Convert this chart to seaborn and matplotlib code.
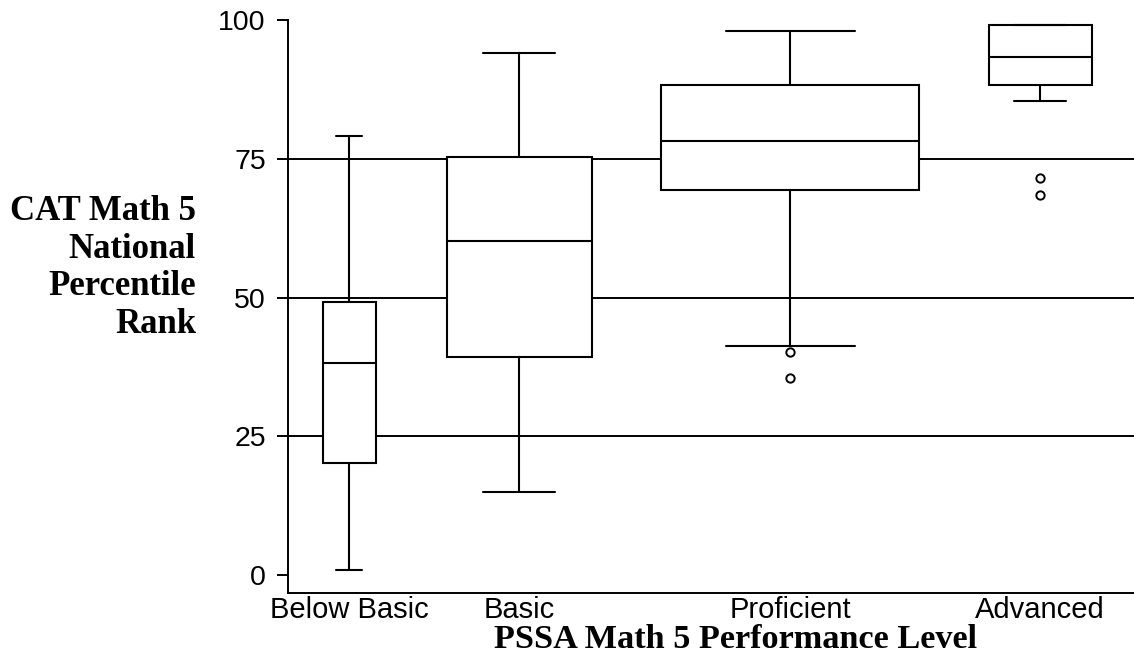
import pandas as pd
import matplotlib
matplotlib.use("Agg")
import matplotlib.pyplot as plt
import seaborn as sns

# Уровни и пятичисловая сводка по каждому
levels = ["Below Basic", "Basic", "Proficient", "Advanced"]
whisker_low = [1, 15, 41.3, 85.4]
q1 = [20.2, 39.3, 69.4, 88.3]
median = [38.2, 60.2, 78.2, 93.3]
q3 = [49.2, 75.3, 88.3, 99.1]
whisker_high = [79.1, 94.1, 98, 99.1]
outliers = {"Proficient": [40.2, 35.5], "Advanced": [71.5, 68.5]}

# Раскладка: центры и ширины ящиков (в пикселях от левой оси)
positions = [61, 231, 502, 752]
widths = [53, 145, 258, 103]

rows = []
for i, lvl in enumerate(levels):
    for v in [whisker_low[i], q1[i], median[i], q3[i], whisker_high[i]]:
        rows.append({"level": lvl, "pos": positions[i], "value": v})
df = pd.DataFrame(rows)

out_rows = []
for i, lvl in enumerate(levels):
    for v in outliers.get(lvl, []):
        out_rows.append({"level": lvl, "pos": positions[i], "value": v})
out_df = pd.DataFrame(out_rows)

sns.set_style("white")
plt.rcParams["font.family"] = ["Liberation Sans", "DejaVu Sans"]
plt.rcParams["text.color"] = "black"
plt.rcParams["xtick.color"] = "black"
plt.rcParams["ytick.color"] = "black"

fig = plt.figure(figsize=(11.34, 6.61), dpi=100)
ax = fig.add_axes([288 / 1134, 68 / 661, 1 - 288 / 1134, (593 - 20) / 661])

# Линии на 25/50/75
for yv in [25, 50, 75]:
    ax.axhline(yv, color="black", lw=1.4, zorder=1)

for i, lvl in enumerate(levels):
    sns.boxplot(data=df[df["level"] == lvl], x="pos", y="value", orient="x",
                native_scale=True, width=widths[i], whis=(0, 100),
                color="white", linecolor="black", linewidth=1.5, ax=ax)

sns.scatterplot(data=out_df, x="pos", y="value", marker="o", s=36,
                facecolor="white", edgecolor="black", linewidth=1.4,
                zorder=5, ax=ax)

ax.set_xlim(0, 846)
ax.set_ylim(-3.2, 100)
ax.set_xticks(positions)
ax.set_xticklabels(levels)
ax.set_yticks([0, 25, 50, 75, 100])
ax.tick_params(axis="y", length=8, width=1.4, direction="out", pad=8,
               labelsize=20.5, left=True, colors="black")
ax.tick_params(axis="x", length=0, pad=2, labelsize=21, colors="black")
ax.set_xlabel("")
ax.set_ylabel("")

for s in ["top", "right"]:
    ax.spines[s].set_visible(False)
for s in ["left", "bottom"]:
    ax.spines[s].set_color("black")
    ax.spines[s].set_linewidth(1.4)

serif = ["Liberation Serif", "DejaVu Serif"]
fig.text(196 / 1134, 1 - 268 / 661, "CAT Math 5\nNational\nPercentile\nRank",
         ha="right", va="center", multialignment="right", fontsize=25,
         fontweight="bold", family=serif, linespacing=1.19, color="black")
fig.text(736 / 1134, 1 - 640 / 661, "PSSA Math 5 Performance Level",
         ha="center", va="center", fontsize=24.7, fontweight="bold",
         family=serif, color="black")

fig.savefig("out.png", dpi=100)
